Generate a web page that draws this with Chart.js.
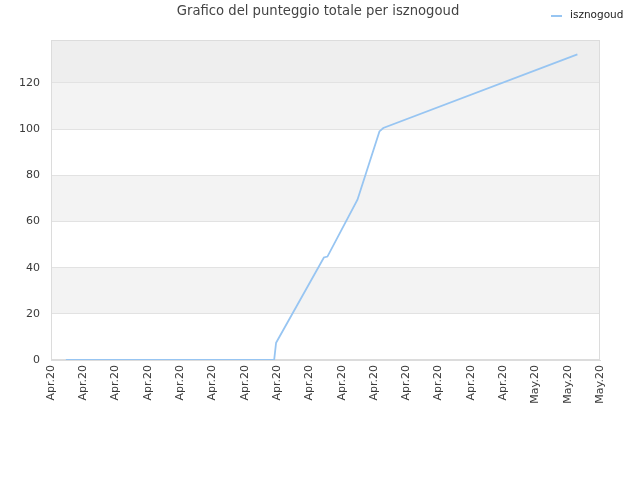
<!DOCTYPE html>
<html>
<head>
<meta charset="utf-8">
<script src="https://cdn.jsdelivr.net/npm/chart.js@4/dist/chart.umd.min.js"></script>
<style>
html,body{margin:0;padding:0;background:#fff;}
#wrap{width:640px;height:480px;}
</style>
</head>
<body>
<div id="wrap"><canvas id="c" width="640" height="480"></canvas></div>
<script>
const chartTitle = "Grafico del punteggio totale per isznogoud";
const seriesName = "isznogoud";
const xTickLabels = ["Apr.20","Apr.20","Apr.20","Apr.20","Apr.20","Apr.20","Apr.20","Apr.20","Apr.20","Apr.20","Apr.20","Apr.20","Apr.20","Apr.20","Apr.20","May.20","May.20","May.20"];
const xPositions = [0.46, 6.91, 6.97, 7.04, 8.45, 8.56, 9.49, 10.17, 10.29, 16.30];
const scores     = [0,    0,    7.5,  9.2,  44.4, 44.8, 69.4, 99.0,  100.5, 132.4];
const yMax = 138.6;
const yStep = 20;

const points = xPositions.map((x, i) => ({x: x, y: scores[i]}));

const decor = {
  id: 'decor',
  beforeDraw(chart) {
    const {ctx, chartArea: a, scales: {y}} = chart;
    ctx.save();
    ctx.fillStyle = '#ffffff';
    ctx.fillRect(0, 0, chart.width, chart.height);
    for (let v = 0; v < yMax; v += yStep) {
      const band = Math.round(v / yStep);
      const top = Math.max(y.getPixelForValue(Math.min(v + yStep, yMax)), a.top);
      const bot = y.getPixelForValue(v);
      let col = null;
      if (v + yStep > yMax) col = '#eeeeee';
      else if (band % 2 === 1) col = '#f3f3f3';
      if (col) { ctx.fillStyle = col; ctx.fillRect(a.left, top, a.right - a.left, bot - top); }
    }
    ctx.restore();
  },
  beforeDatasetsDraw(chart) {
    const {ctx, chartArea: a} = chart;
    ctx.save();
    ctx.strokeStyle = '#dcdcdc';
    ctx.lineWidth = 1;
    ctx.strokeRect(Math.round(a.left) + 0.5, Math.round(a.top) + 0.5, Math.round(a.right - a.left) - 1, Math.round(a.bottom - a.top) - 1);
    ctx.restore();
  },
  afterDraw(chart) {
    const ctx = chart.ctx;
    ctx.save();
    ctx.fillStyle = '#444444';
    ctx.font = '13.2px "DejaVu Sans"';
    ctx.textAlign = 'center';
    ctx.textBaseline = 'middle';
    ctx.fillText(chartTitle, 318, 12);
    ctx.strokeStyle = '#97c5f2';
    ctx.lineWidth = 2;
    ctx.beginPath(); ctx.moveTo(551, 16); ctx.lineTo(562, 16); ctx.stroke();
    ctx.fillStyle = '#222222';
    ctx.font = '10.5px "DejaVu Sans"';
    ctx.textAlign = 'left';
    ctx.fillText(seriesName, 570, 15);
    ctx.restore();
  }
};

new Chart(document.getElementById('c'), {
  type: 'line',
  data: {
    datasets: [{
      label: seriesName,
      data: points,
      borderColor: '#97c5f2',
      borderWidth: 1.8,
      pointRadius: 0,
      fill: false,
      tension: 0
    }]
  },
  options: {
    responsive: false,
    animation: false,
    devicePixelRatio: 1,
    layout: {padding: {left: 0, right: 40, top: 40, bottom: 0}},
    plugins: {legend: {display: false}, title: {display: false}, tooltip: {enabled: false}},
    scales: {
      x: {
        type: 'linear',
        min: 0, max: xTickLabels.length - 1,
        afterFit(s) { s.height = 120; },
        afterBuildTicks(s) { s.ticks = xTickLabels.map((_, i) => ({value: i})); },
        ticks: {
          autoSkip: false, minRotation: 90, maxRotation: 90, padding: 5,
          color: '#3a3a3a', font: {family: 'DejaVu Sans', size: 11},
          callback: (v) => xTickLabels[v]
        },
        grid: {display: false, drawTicks: false},
        border: {display: true, color: '#dcdcdc'}
      },
      y: {
        min: 0, max: yMax,
        afterFit(s) { s.width = 51; },
        afterBuildTicks(s) { s.ticks = s.ticks.filter(t => Math.abs(t.value / yStep - Math.round(t.value / yStep)) < 1e-6); },
        ticks: {stepSize: yStep, padding: 11, color: '#3a3a3a', font: {family: 'DejaVu Sans', size: 11}},
        grid: {color: '#e2e2e2', drawTicks: false},
        border: {display: true, color: '#dcdcdc'}
      }
    }
  },
  plugins: [decor]
});
</script>
</body>
</html>
